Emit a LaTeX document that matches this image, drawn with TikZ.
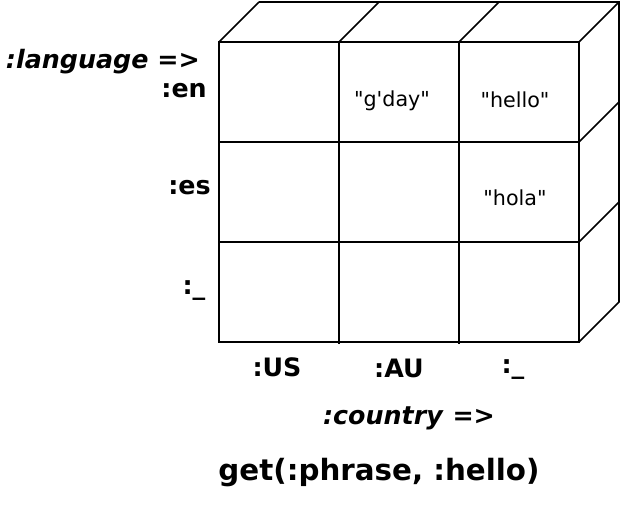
\documentclass[tikz,border=0pt]{standalone}
\usepackage{fontspec}
\setmainfont{DejaVu Sans}
\newfontfamily\entryfont{DejaVu Sans}
\tikzstyle{grid}=[draw=black,line width=1.2pt]
\tikzstyle{key}=[font=\bfseries\fontsize{19}{22}\selectfont,inner sep=0pt]
\tikzstyle{query}=[font=\bfseries\fontsize{22}{26}\selectfont,inner sep=0pt]
\tikzstyle{entry}=[font=\entryfont\fontsize{15.5}{18}\selectfont,inner sep=0pt]

\begin{document}
\begin{tikzpicture}[x=0.75pt,y=-0.75pt]
                    \useasboundingbox (0,0) rectangle (623,504);

                    % front face of the cube
                    \draw [grid] (219,42) rectangle (579,342);
                    \foreach \x in {339,459} \draw [grid] (\x,42) -- (\x,344);
                    \foreach \y in {142,242} \draw [grid] (219,\y) -- (579,\y);

                    % top and right faces
                    \foreach \x in {219,339,459,579} \draw [grid] (\x,42) -- ++(40,-40);
                    \foreach \y in {142,242} \draw [grid] (579,\y) -- ++(40,-40);
                    \draw [grid] (259,2) -- (619,2) -- (619,302) -- (579,342);

                    \node (lang) at (200,62) [key,anchor=east] {\textit{:language} =>};
                    \node (en) at (207,91) [key,anchor=east] {:en};
                    \node (es) at (211,188) [key,anchor=east] {:es};
                    \node (nolang) at (194,291) [key] {:\_};

                    \node (us) at (277,367) [key] {:US};
                    \node (au) at (399,368) [key] {:AU};
                    \node (nocountry) at (513,370) [key] {:\_};
                    \node (country) at (409,418) [key] {\textit{:country} =>};
                    \node (get) at (379,473) [query] {get(:phrase, :hello)};

                    \node (gday) at (392,101) [entry] {"g'day"};
                    \node (hello) at (515,100) [entry] {"hello"};
                    \node (hola) at (515,198) [entry] {"hola"};
                \end{tikzpicture}
\end{document}
